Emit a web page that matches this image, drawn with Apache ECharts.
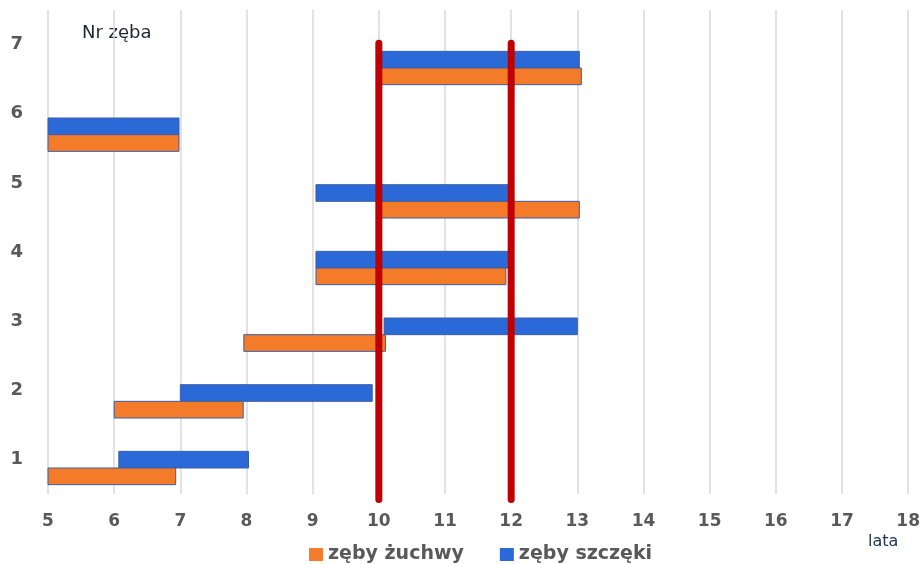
<!DOCTYPE html>
<html>
<head>
<meta charset="utf-8">
<script src="https://cdn.jsdelivr.net/npm/echarts@6/dist/echarts.min.js"></script>
<style>
  html, body { margin: 0; padding: 0; background: #ffffff; }
  #chart { width: 923px; height: 564px; }
</style>
</head>
<body>
<div id="chart"></div>
<script>
// Tooth eruption periods (age in years) per tooth number
const teeth = [1, 2, 3, 4, 5, 6, 7];
const xTicks = [5, 6, 7, 8, 9, 10, 11, 12, 13, 14, 15, 16, 17, 18];

// mandibular teeth (zęby żuchwy)
const mandibleStart = [5.0, 6.0, 7.96, 9.05, 10.0, 5.0, 10.0];
const mandibleEnd   = [6.93, 7.95, 10.1, 11.92, 13.03, 6.98, 13.06];

// maxillary teeth (zęby szczęki)
const maxillaStart = [6.07, 7.0, 10.08, 9.05, 9.05, 5.0, 10.03];
const maxillaEnd   = [8.03, 9.9, 13.0, 12.0, 12.02, 6.98, 13.03];

// ages marked with vertical red lines
const markedAges = [10, 12];

const seriesNames = ['zęby żuchwy', 'zęby szczęki'];
const colors = { mandible: '#f47b2a', maxilla: '#2b69d9', border: '#3b5ea6', marker: '#c00000' };
const labelFont = 'DejaVu Sans';

const BAR_UNITS = 0.25;   // height of one bar, in units of the bar axis

// bars live on a hidden secondary y axis; blue (slot 0) above, orange (slot 1) below
function barRenderer(slot) {
  return function (params, api) {
    const start = api.value(0), end = api.value(1), tooth = api.value(2);
    const unit = api.size([0, 1])[1];
    const h = BAR_UNITS * unit;
    const p0 = api.coord([start, tooth]);
    const p1 = api.coord([end, tooth]);
    const y = slot === 0 ? p0[1] - h : p0[1];
    return {
      type: 'rect',
      shape: { x: p0[0], y: y, width: p1[0] - p0[0], height: h },
      style: api.style({ stroke: colors.border, lineWidth: 1 })
    };
  };
}

function markerRenderer(params, api) {
  const age = api.value(0);
  const top = api.coord([age, 7.02]);
  const bottom = api.coord([age, 0.42]);
  return {
    type: 'line',
    shape: { x1: top[0], y1: top[1], x2: bottom[0], y2: bottom[1] },
    style: { stroke: colors.marker, lineWidth: 7, lineCap: 'round' },
    z2: 10
  };
}

const mandibleData = teeth.map((t, i) => [mandibleStart[i], mandibleEnd[i], t]);
const maxillaData = teeth.map((t, i) => [maxillaStart[i], maxillaEnd[i], t]);

const chart = echarts.init(document.getElementById('chart'), null, { renderer: 'canvas' });

chart.setOption({
  animation: false,
  backgroundColor: '#ffffff',
  grid: { left: 48, right: 13, top: 10, bottom: 70, containLabel: false },
  legend: {
    data: seriesNames,
    left: 304,
    top: 540,
    icon: 'rect',
    itemWidth: 14,
    itemHeight: 13,
    itemGap: 36,
    textStyle: { fontFamily: labelFont, fontSize: 19, fontWeight: 'bold', color: '#595959' }
  },
  xAxis: {
    type: 'value',
    min: xTicks[0],
    max: xTicks[xTicks.length - 1],
    interval: 1,
    axisLine: { show: false },
    axisTick: { show: false },
    splitLine: { show: true, lineStyle: { color: '#d9d9d9', width: 1.5 } },
    axisLabel: {
      margin: 19,
      fontFamily: labelFont,
      fontSize: 17,
      fontWeight: 'bold',
      color: '#595959',
      showMaxLabel: true
    }
  },
  yAxis: [
    {
      type: 'value',
      min: 0.5,
      max: 7.5,
      axisLine: { show: false },
      axisTick: { show: false },
      splitLine: { show: false },
      axisLabel: {
        customValues: teeth,
        margin: 25,
        fontFamily: labelFont,
        fontSize: 18,
        fontWeight: 'bold',
        color: '#595959'
      }
    },
    {
      // secondary axis that positions the bar pairs
      type: 'value',
      min: 0.61,
      max: 7.87,
      show: false,
      splitLine: { show: false }
    }
  ],
  graphic: [
    {
      type: 'group',
      left: 79,
      top: 12,
      z: 50,
      children: [
        { type: 'rect', shape: { x: 0, y: 0, width: 107, height: 40 }, style: { fill: '#ffffff' } },
        {
          type: 'text',
          x: 3,
          y: 12,
          style: { text: 'Nr zęba', fontFamily: labelFont, fontSize: 18, fill: '#1e2530' }
        }
      ]
    },
    {
      type: 'text',
      left: 868,
      top: 534,
      style: { text: 'lata', fontFamily: labelFont, fontSize: 16, fill: '#1f3350' }
    }
  ],
  series: [
    {
      name: seriesNames[1],
      type: 'custom',
      renderItem: barRenderer(0),
      yAxisIndex: 1,
      itemStyle: { color: colors.maxilla },
      encode: { x: [0, 1], y: 2 },
      data: maxillaData,
      z: 3
    },
    {
      name: seriesNames[0],
      type: 'custom',
      renderItem: barRenderer(1),
      yAxisIndex: 1,
      itemStyle: { color: colors.mandible },
      encode: { x: [0, 1], y: 2 },
      data: mandibleData,
      z: 3
    },
    {
      name: 'markers',
      type: 'custom',
      renderItem: markerRenderer,
      yAxisIndex: 0,
      clip: false,
      encode: { x: 0 },
      data: markedAges.map(a => [a]),
      z: 10
    }
  ]
});
</script>
</body>
</html>
